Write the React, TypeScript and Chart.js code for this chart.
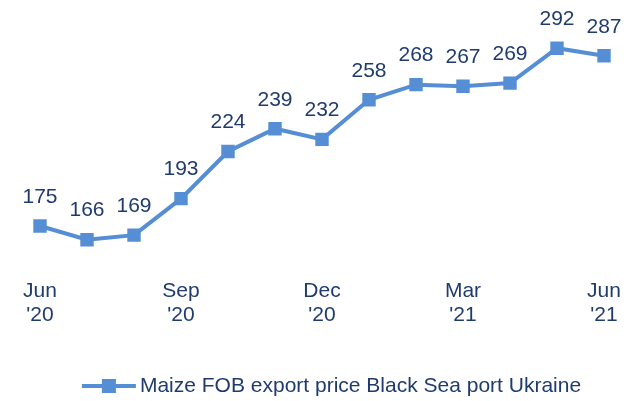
import React, { useEffect, useRef } from "react";
import { Chart, registerables } from "chart.js";

Chart.register(...registerables);

const months = ["Jun '20", "Jul '20", "Aug '20", "Sep '20", "Oct '20", "Nov '20", "Dec '20", "Jan '21", "Feb '21", "Mar '21", "Apr '21", "May '21", "Jun '21"];
const tickLabels: (string[] | string)[] = [["Jun", "'20"], "", "", ["Sep", "'20"], "", "", ["Dec", "'20"], "", "", ["Mar", "'21"], "", "", ["Jun", "'21"]];
const prices = [175, 166, 169, 193, 224, 239, 232, 258, 268, 267, 269, 292, 287];
const seriesName = "Maize FOB export price Black Sea port Ukraine";

const LINE = "#558ED5";
const TEXT = "#1F3B6E";
const FONT = "'Liberation Sans', Arial, sans-serif";

const labelPlugin = {
  id: "valueLabels",
  afterDatasetsDraw(chart: any) {
    const ctx = chart.ctx;
    const meta = chart.getDatasetMeta(0);
    ctx.save();
    ctx.fillStyle = TEXT;
    ctx.font = `21px ${FONT}`;
    ctx.textAlign = "center";
    ctx.textBaseline = "middle";
    meta.data.forEach((pt: any, i: number) => {
      ctx.fillText(String(prices[i]), pt.x, pt.y - 29);
    });
    ctx.restore();
  },
};

const legendPlugin = {
  id: "customLegend",
  afterDraw(chart: any) {
    const ctx = chart.ctx;
    ctx.save();
    ctx.font = `21px ${FONT}`;
    const tw = ctx.measureText(seriesName).width;
    const iconW = 54;
    const gap = 4;
    const total = iconW + gap + tw;
    const cx = chart.width / 2 + 10;
    const x0 = cx - total / 2;
    const y = 386;
    ctx.strokeStyle = LINE;
    ctx.lineWidth = 4;
    ctx.beginPath();
    ctx.moveTo(x0, y);
    ctx.lineTo(x0 + iconW, y);
    ctx.stroke();
    ctx.fillStyle = LINE;
    ctx.fillRect(x0 + iconW / 2 - 7, y - 7, 14, 14);
    ctx.fillStyle = TEXT;
    ctx.textAlign = "left";
    ctx.textBaseline = "middle";
    ctx.fillText(seriesName, x0 + iconW + gap, y);
    ctx.restore();
  },
};

export default function App() {
  const ref = useRef<HTMLCanvasElement>(null);
  useEffect(() => {
    const chart = new Chart(ref.current!, {
      type: "line",
      data: {
        labels: months,
        datasets: [
          {
            label: seriesName,
            data: prices,
            borderColor: LINE,
            backgroundColor: LINE,
            borderWidth: 4,
            pointStyle: "rect",
            pointRadius: 9.5,
            pointBackgroundColor: LINE,
            pointBorderColor: LINE,
            pointBorderWidth: 0,
            tension: 0,
          },
        ],
      },
      options: {
        animation: false,
        responsive: true,
        maintainAspectRatio: false,
        layout: { padding: { left: 40, right: 39, top: 36, bottom: 0 } },
        scales: {
          x: {
            offset: false,
            grid: { display: false },
            border: { display: false },
            afterFit: (scale: any) => {
              scale.height = 137;
            },
            ticks: {
              autoSkip: false,
              maxRotation: 0,
              padding: 7,
              color: TEXT,
              font: { family: FONT, size: 21, lineHeight: 1.15 },
              callback: (_v: any, i: number) => tickLabels[i],
            },
          },
          y: {
            display: false,
            min: 150,
            max: 300,
          },
        },
        plugins: {
          legend: { display: false },
          tooltip: { enabled: false },
        },
      },
      plugins: [labelPlugin, legendPlugin],
    });
    return () => chart.destroy();
  }, []);
  return (
    <div style={{ position: "absolute", left: 0, top: 0, width: 643, height: 401, background: "#fff" }}>
      <canvas ref={ref} />
    </div>
  );
}
